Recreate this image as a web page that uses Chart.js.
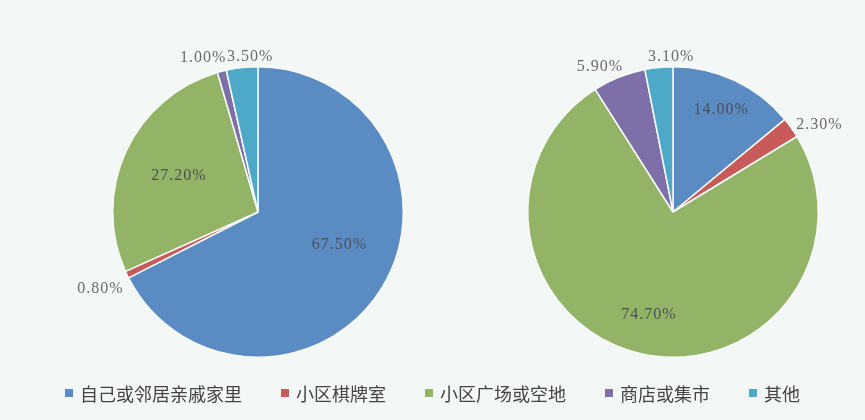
<!DOCTYPE html>
<html>
<head>
<meta charset="utf-8">
<script src="https://cdn.jsdelivr.net/npm/chart.js@4"></script>
<style>
    html, body {
        margin: 0;
        padding: 0;
        background: #f3f8f6;
        overflow: hidden;
    }
    .page {
        position: relative;
        width: 865px;
        height: 420px;
    }
    #pie-left {
        position: absolute;
        left: 58px;
        top: 20px;
    }
    #pie-right {
        position: absolute;
        left: 473px;
        top: 20px;
    }
    .legend {
        position: absolute;
        left: 0;
        top: 381px;
        width: 865px;
        display: flex;
        justify-content: center;
        gap: 39px;
        font-family: "Noto Sans CJK SC", sans-serif;
        font-size: 18px;
        line-height: 24px;
        color: #444;
    }
    .legend-item {
        display: flex;
        align-items: center;
    }
    .legend-box {
        width: 8px;
        height: 8px;
        margin-right: 7px;
    }
</style>
</head>
<body>
<div class="page">
    <canvas id="pie-left" width="400" height="384"></canvas>
    <canvas id="pie-right" width="392" height="384"></canvas>
    <div class="legend" id="legend"></div>
</div>
<script>
// Places where people play, share in percent
const categories = ['自己或邻居亲戚家里', '小区棋牌室', '小区广场或空地', '商店或集市', '其他'];
const leftValues = [67.5, 0.8, 27.2, 1.0, 3.5];
const rightValues = [14.0, 2.3, 74.7, 5.9, 3.1];
const sliceColors = ['#5a8bc3', '#c95a5a', '#93b466', '#7f6fa9', '#4ea8c8'];

// Label placement per slice: inside at a fraction of the radius, or just outside the rim
const leftLabelPlacement = [
    { inside: true, r: 0.6, dx: 7, dy: -13 },
    { inside: false, dx: -2, dy: 9 },
    { inside: true, r: 0.6, dx: 0, dy: 0 },
    { inside: false, dx: -12, dy: -3 },
    { inside: false, dx: 11, dy: 0 }
];
const rightLabelPlacement = [
    { inside: true, r: 0.78, dx: 0, dy: 0 },
    { inside: false, dx: 6, dy: 3 },
    { inside: true, r: 0.73, dx: 0, dy: 0 },
    { inside: false, dx: -9, dy: 0 },
    { inside: false, dx: 15, dy: 0 }
];

// Draws the percentage text for each slice
const sliceLabels = {
    id: 'sliceLabels',
    afterDatasetsDraw(chart, args, opts) {
        const ctx = chart.ctx;
        const meta = chart.getDatasetMeta(0);
        const values = chart.data.datasets[0].data;
        ctx.save();
        ctx.font = '16px "Liberation Serif", serif';
        ctx.letterSpacing = '1px';
        ctx.textAlign = 'center';
        ctx.textBaseline = 'middle';
        meta.data.forEach((arc, i) => {
            const p = arc.getProps(['x', 'y', 'startAngle', 'endAngle', 'outerRadius'], true);
            const mid = (p.startAngle + p.endAngle) / 2;
            const ux = Math.cos(mid);
            const uy = Math.sin(mid);
            const text = values[i].toFixed(2) + '%';
            const w = ctx.measureText(text).width;
            const h = 14;
            const place = opts.placement[i];
            let cx, cy;
            if (place.inside) {
                cx = p.x + ux * p.outerRadius * place.r;
                cy = p.y + uy * p.outerRadius * place.r;
                ctx.fillStyle = '#4b5058';
            } else {
                const d = p.outerRadius + 4;
                cx = p.x + ux * d + ux * w / 2;
                cy = p.y + uy * d + uy * h / 2;
                ctx.fillStyle = '#6a6a6a';
            }
            ctx.fillText(text, cx + place.dx, cy + place.dy);
        });
        ctx.restore();
    }
};

function createPie(canvasId, values, placement, padding) {
    return new Chart(document.getElementById(canvasId), {
        type: 'pie',
        data: {
            labels: categories,
            datasets: [{
                data: values,
                backgroundColor: sliceColors,
                borderColor: '#f6faf8',
                borderWidth: 1.5
            }]
        },
        options: {
            responsive: false,
            animation: false,
            events: [],
            layout: { padding: padding },
            plugins: {
                legend: { display: false },
                tooltip: { enabled: false },
                sliceLabels: { placement: placement }
            }
        },
        plugins: [sliceLabels]
    });
}

createPie('pie-left', leftValues, leftLabelPlacement, { left: 54, right: 54, top: 46, bottom: 46 });
createPie('pie-right', rightValues, rightLabelPlacement, { left: 54, right: 46, top: 46, bottom: 46 });

// Shared legend under both pies
const legendElement = document.getElementById('legend');
categories.forEach((name, i) => {
    const item = document.createElement('div');
    item.className = 'legend-item';
    item.innerHTML = `<span class="legend-box" style="background:${sliceColors[i]}"></span><span>${name}</span>`;
    legendElement.appendChild(item);
});
</script>
</body>
</html>
